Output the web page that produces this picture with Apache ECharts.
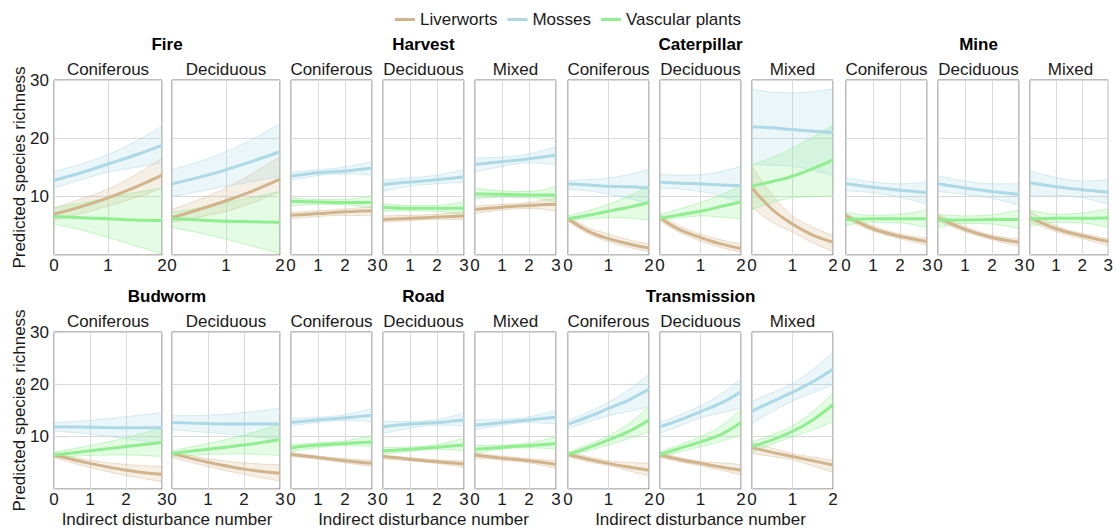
<!DOCTYPE html>
<html>
<head>
<meta charset="utf-8">
<script src="https://cdn.jsdelivr.net/npm/echarts@6/dist/echarts.min.js"></script>
<style>
html, body { margin: 0; padding: 0; background: #fff; }
#chart { width: 1116px; height: 529px; }
</style>
</head>
<body>
<div id="chart"></div>
<script>
// categories
const disturbances = ['Fire', 'Harvest', 'Caterpillar', 'Mine', 'Budworm', 'Road', 'Transmission'];
const habitats = [
  ['Coniferous', 'Deciduous'],
  ['Coniferous', 'Deciduous', 'Mixed'],
  ['Coniferous', 'Deciduous', 'Mixed'],
  ['Coniferous', 'Deciduous', 'Mixed'],
  ['Coniferous', 'Deciduous'],
  ['Coniferous', 'Deciduous', 'Mixed'],
  ['Coniferous', 'Deciduous', 'Mixed']
];
const xsShort = [0, 0.5, 1, 1.5, 2];   // disturbance numbers for 0-2 panels
const xsLong = [0, 1, 2, 3];           // disturbance numbers for 0-3 panels
const xValues = [xsShort, xsLong, xsShort, xsLong, xsLong, xsLong, xsShort];
const species = ['Liverworts', 'Mosses', 'Vascular plants'];
const yTicks = [10, 20, 30];

// predicted richness, one row per panel (same order as disturbances x habitats)
const liverFit = [
  [7.0, 8.3, 9.8, 11.6, 13.7], [6.4, 7.8, 9.3, 11.0, 13.0],
  [6.8, 7.1, 7.4, 7.6], [6.1, 6.3, 6.5, 6.7], [7.8, 8.2, 8.5, 8.7],
  [6.2, 4.1, 2.8, 1.9, 1.2], [6.4, 4.3, 3.0, 1.9, 1.1], [11.5, 7.8, 5.3, 3.4, 2.2],
  [6.7, 4.5, 3.2, 2.3], [6.4, 4.4, 3.0, 2.2], [6.4, 4.5, 3.3, 2.3],
  [6.5, 4.9, 3.6, 2.8], [6.8, 5.1, 3.8, 3.0],
  [6.6, 6.0, 5.4, 4.9], [6.2, 5.7, 5.2, 4.8], [6.5, 5.9, 5.4, 4.7],
  [6.6, 5.7, 4.9, 4.2, 3.6], [6.5, 5.6, 4.9, 4.2, 3.6], [7.9, 7.0, 6.2, 5.4, 4.6]
];
const liverLow = [
  [6.0, 7.1, 8.4, 9.8, 11.5], [5.6, 6.5, 7.5, 9.0, 10.9],
  [6.2, 6.6, 6.8, 6.7], [5.6, 5.9, 6.1, 6.1], [7.1, 7.7, 8.0, 7.5],
  [5.8, 3.6, 2.3, 1.3, 0.6], [5.8, 3.8, 2.4, 1.3, 0.5], [8.1, 5.6, 3.9, 2.1, 0.6],
  [6.1, 4.1, 2.8, 1.7], [5.8, 4.0, 2.6, 1.5], [5.7, 4.0, 2.8, 1.6],
  [6.0, 4.1, 2.6, 1.4], [6.0, 4.3, 2.8, 1.5],
  [6.2, 5.7, 5.0, 4.3], [5.7, 5.4, 4.9, 4.1], [5.9, 5.5, 5.0, 3.9],
  [6.2, 5.2, 4.5, 3.5, 2.5], [6.0, 5.2, 4.4, 3.6, 2.7], [6.8, 6.2, 5.6, 4.4, 3.2]
];
const liverHigh = [
  [8.1, 9.6, 11.3, 13.7, 16.6], [7.8, 9.5, 11.5, 14.0, 16.9],
  [7.3, 7.6, 7.9, 8.3], [6.7, 6.8, 7.0, 7.4], [8.4, 8.7, 9.0, 9.8],
  [6.7, 4.7, 3.6, 2.6, 1.9], [7.0, 4.9, 3.6, 2.6, 1.9], [15.2, 10.3, 6.7, 4.8, 3.3],
  [7.1, 5.0, 3.6, 2.9], [7.0, 4.9, 3.4, 2.8], [7.5, 5.0, 3.7, 2.8],
  [6.8, 5.5, 4.7, 4.3], [7.1, 5.8, 5.0, 4.6],
  [7.0, 6.3, 5.8, 5.5], [6.5, 6.0, 5.6, 5.4], [6.9, 6.3, 5.8, 5.4],
  [7.0, 6.2, 5.4, 5.1, 4.9], [7.0, 6.0, 5.3, 5.0, 4.7], [8.9, 7.8, 6.8, 6.1, 5.5]
];
const mossFit = [
  [12.8, 14.1, 15.6, 17.1, 18.8], [12.2, 13.3, 14.6, 16.1, 17.7],
  [13.5, 14.1, 14.4, 14.9], [12.1, 12.5, 12.9, 13.4], [15.5, 16.0, 16.5, 17.1],
  [12.2, 12.0, 11.8, 11.7, 11.5], [12.5, 12.3, 12.2, 12.0, 11.9], [22.0, 21.8, 21.5, 21.2, 21.0],
  [12.2, 11.6, 11.1, 10.7], [12.2, 11.5, 10.9, 10.4], [12.4, 11.7, 11.2, 10.8],
  [11.9, 11.8, 11.7, 11.7], [12.7, 12.5, 12.4, 12.4],
  [12.7, 13.2, 13.6, 14.1], [11.9, 12.4, 12.7, 13.2], [12.2, 12.7, 13.2, 13.7],
  [12.4, 13.8, 15.4, 17.0, 19.1], [11.9, 13.2, 14.8, 16.4, 18.6], [14.9, 16.7, 18.5, 20.5, 22.9]
];
const mossLow = [
  [11.5, 12.9, 14.2, 15.0, 15.8], [10.0, 10.9, 11.8, 12.6, 13.5],
  [12.8, 13.6, 13.9, 13.7], [10.9, 11.8, 12.2, 12.5], [14.2, 15.2, 15.8, 15.5],
  [11.3, 11.0, 10.4, 9.7, 8.8], [11.5, 11.3, 10.9, 10.1, 9.0], [15.5, 15.4, 15.2, 14.5, 13.6],
  [11.0, 10.7, 9.9, 8.7], [10.9, 10.4, 9.7, 8.5], [10.1, 10.2, 9.8, 8.7],
  [11.1, 10.5, 9.6, 8.7], [11.3, 10.8, 10.2, 9.4],
  [12.1, 12.7, 13.1, 12.9], [10.6, 11.6, 12.2, 12.1], [11.3, 12.2, 12.7, 12.4],
  [11.6, 12.8, 14.0, 14.8, 15.7], [10.6, 12.1, 13.6, 14.5, 15.5], [12.5, 14.8, 16.8, 18.4, 19.9]
];
const mossHigh = [
  [14.3, 15.6, 17.2, 19.4, 22.1], [14.6, 16.0, 17.7, 19.9, 22.5],
  [14.2, 14.6, 15.1, 16.0], [12.8, 13.2, 13.7, 14.6], [16.6, 16.8, 17.3, 18.6],
  [12.8, 12.9, 13.2, 13.8, 14.7], [13.8, 13.7, 13.8, 14.3, 15.2], [28.5, 27.9, 27.8, 28.0, 28.5],
  [13.3, 12.5, 12.2, 12.5], [13.6, 12.7, 12.2, 12.2], [14.4, 13.3, 12.7, 12.9],
  [12.7, 13.1, 13.8, 14.6], [14.0, 14.1, 14.6, 15.4],
  [13.5, 13.7, 14.2, 15.4], [12.9, 12.9, 13.3, 14.5], [13.2, 13.3, 13.8, 15.1],
  [13.0, 14.7, 16.6, 19.0, 21.9], [12.7, 14.2, 15.9, 18.1, 21.1], [16.8, 18.4, 20.2, 22.8, 26.2]
];
const vascFit = [
  [6.6, 6.4, 6.2, 6.0, 5.9], [6.2, 6.0, 5.8, 5.7, 5.6],
  [9.2, 9.1, 9.0, 9.0], [8.2, 8.0, 8.0, 8.0], [10.5, 10.4, 10.3, 10.3],
  [6.2, 6.8, 7.5, 8.2, 9.0], [6.3, 6.9, 7.5, 8.3, 9.1], [11.8, 12.6, 13.5, 14.8, 16.3],
  [6.1, 6.2, 6.2, 6.2], [6.0, 6.0, 6.1, 6.1], [6.2, 6.3, 6.3, 6.4],
  [6.5, 7.3, 8.1, 8.9], [6.8, 7.6, 8.4, 9.4],
  [7.9, 8.4, 8.7, 9.0], [7.3, 7.6, 8.0, 8.4], [7.6, 8.0, 8.3, 8.7],
  [6.6, 7.9, 9.4, 11.0, 13.2], [6.6, 7.8, 9.0, 10.4, 12.7], [8.1, 9.4, 11.0, 13.2, 16.1]
];
const vascLow = [
  [5.3, 4.3, 3.0, 1.6, 0.2], [4.7, 3.8, 2.7, 1.5, 0.2],
  [8.4, 8.7, 8.6, 8.1], [7.5, 7.6, 7.5, 6.8], [9.6, 9.9, 9.8, 9.1],
  [5.9, 6.2, 6.4, 6.3, 6.0], [6.0, 6.4, 6.7, 6.5, 6.2], [7.8, 9.0, 9.8, 10.0, 10.1],
  [5.1, 5.6, 5.5, 4.7], [4.7, 5.4, 5.3, 4.5], [4.9, 5.6, 5.5, 4.7],
  [6.0, 6.4, 6.5, 6.2], [6.2, 6.6, 6.7, 6.4],
  [7.1, 7.9, 8.3, 8.1], [6.6, 7.2, 7.6, 7.3], [6.8, 7.6, 7.9, 7.6],
  [6.2, 7.3, 8.4, 9.6, 11.0], [6.0, 7.1, 8.1, 9.1, 10.4], [7.0, 8.6, 10.0, 11.3, 12.9]
];
const vascHigh = [
  [8.1, 8.9, 9.8, 10.7, 11.5], [7.3, 8.1, 9.0, 9.9, 10.9],
  [9.8, 9.5, 9.5, 10.2], [8.8, 8.5, 8.5, 9.2], [11.5, 11.0, 10.9, 11.7],
  [6.7, 7.6, 8.7, 10.1, 11.8], [7.0, 7.9, 9.0, 10.3, 11.9], [15.5, 16.7, 18.3, 20.2, 22.3],
  [7.3, 6.8, 7.0, 7.7], [7.0, 6.7, 6.9, 7.7], [7.7, 7.0, 7.2, 7.9],
  [7.0, 8.3, 9.8, 11.7], [7.3, 8.7, 10.3, 12.4],
  [8.5, 8.8, 9.2, 10.2], [7.9, 8.0, 8.5, 9.7], [8.3, 8.4, 8.8, 10.0],
  [7.0, 8.5, 10.2, 12.5, 15.7], [7.1, 8.5, 10.0, 12.0, 15.3], [9.0, 10.4, 12.1, 14.8, 18.3]
];

const fits = [liverFit, mossFit, vascFit];
const lows = [liverLow, mossLow, vascLow];
const highs = [liverHigh, mossHigh, vascHigh];

// styling / layout
const lineColors = ['#D2B48C', '#ADD8E6', '#90EE90'];
const fillColors = ['rgba(210,180,140,0.22)', 'rgba(173,216,230,0.24)', 'rgba(144,238,144,0.24)'];
const edgeColors = ['rgba(210,180,140,0.6)', 'rgba(173,216,230,0.7)', 'rgba(144,238,144,0.7)'];
const font = '"Liberation Sans", Arial, sans-serif';
const colLeft = [54, 172, 291, 383, 475, 568, 660, 752, 846, 938, 1030];
const rowTop = [80, 332];
const rowHeight = [175, 157];
const rowOfGroup = [0, 0, 0, 0, 1, 1, 1];

const chart = echarts.init(document.getElementById('chart'), null, { renderer: 'svg' });

const isWhole = (idx, val) => Number.isInteger(Number(val));
const grids = [], xAxes = [], yAxes = [], bands = [], lines = [], texts = [];
let panel = 0;
const colCount = [0, 0];

disturbances.forEach((dist, g) => {
  const row = rowOfGroup[g];
  const firstCol = colCount[row];
  const width = habitats[g].length === 2 ? 108 : 81;
  const xs = xValues[g];

  habitats[g].forEach((hab) => {
    const col = colCount[row]++;
    const left = colLeft[col];
    grids.push({
      left: left, top: rowTop[row], width: width, height: rowHeight[row],
      show: true, backgroundColor: '#fff', borderColor: '#7a7a7a', borderWidth: 1
    });
    xAxes.push({
      gridIndex: panel, type: 'category', boundaryGap: false, data: xs.map(String),
      axisLine: { show: false }, axisTick: { show: false },
      splitLine: { show: true, interval: isWhole, lineStyle: { color: '#d9d9d9', width: 1 } },
      axisLabel: { interval: isWhole, fontSize: 17, color: '#1a1a1a', margin: 2, fontFamily: font }
    });
    yAxes.push({
      gridIndex: panel, type: 'value', min: 0, max: 30, interval: 10,
      axisLine: { show: false }, axisTick: { show: false },
      splitLine: { show: true, lineStyle: { color: '#d9d9d9', width: 1 } },
      axisLabel: {
        show: col === 0, fontSize: 17, color: '#1a1a1a', margin: 5, fontFamily: font,
        formatter: v => (yTicks.indexOf(v) >= 0 ? String(v) : '')
      }
    });
    texts.push({
      type: 'text', x: left + width / 2, y: rowTop[row] - 11,
      style: { text: hab, font: '17px ' + font, fill: '#1a1a1a', align: 'center', verticalAlign: 'middle' }
    });

    species.forEach((sp, s) => {
      const stack = 'band' + panel + '_' + s;
      const lo = lows[s][panel];
      const hi = highs[s][panel];
      bands.push({
        type: 'line', name: 'ci', xAxisIndex: panel, yAxisIndex: panel, stack: stack,
        data: lo, smooth: 0.4, symbol: 'none', silent: true, z: 1,
        lineStyle: { color: edgeColors[s], width: 0.7 }
      });
      bands.push({
        type: 'line', name: 'ci', xAxisIndex: panel, yAxisIndex: panel, stack: stack,
        data: hi.map((v, k) => +(v - lo[k]).toFixed(2)),
        smooth: 0.4, symbol: 'none', silent: true, z: 1,
        lineStyle: { color: edgeColors[s], width: 0.7 },
        areaStyle: { color: fillColors[s], opacity: 1 }
      });
      lines.push({
        type: 'line', name: sp, xAxisIndex: panel, yAxisIndex: panel,
        data: fits[s][panel], smooth: 0.4, symbol: 'none', z: 2,
        lineStyle: { color: lineColors[s], width: 3 },
        itemStyle: { color: lineColors[s] }
      });
    });
    panel++;
  });

  // group title centred over its panels
  const n = habitats[g].length;
  const gl = colLeft[firstCol];
  const gr = colLeft[firstCol + n - 1] + width;
  texts.push({
    type: 'text', x: (gl + gr) / 2, y: rowTop[row] - 36,
    style: { text: dist, font: 'bold 17px ' + font, fill: '#000', align: 'center', verticalAlign: 'middle' }
  });
  if (row === 1) {
    texts.push({
      type: 'text', x: (gl + gr) / 2, y: 519,
      style: { text: 'Indirect disturbance number', font: '17px ' + font, fill: '#1a1a1a', align: 'center', verticalAlign: 'middle' }
    });
  }
});

[0, 1].forEach(row => {
  texts.push({
    type: 'text', x: 19, y: rowTop[row] + rowHeight[row] / 2, rotation: Math.PI / 2,
    style: { text: 'Predicted species richness', font: '17px ' + font, fill: '#1a1a1a', align: 'center', verticalAlign: 'middle' }
  });
});

chart.setOption({
  animation: false,
  backgroundColor: '#fff',
  textStyle: { fontFamily: font },
  legend: {
    data: species, top: 6, left: 390, icon: 'rect', itemWidth: 20, itemHeight: 3, itemGap: 10,
    textStyle: { fontSize: 17, color: '#1a1a1a', fontFamily: font }
  },
  grid: grids,
  xAxis: xAxes,
  yAxis: yAxes,
  series: bands.concat(lines),
  graphic: texts
});
</script>
</body>
</html>
